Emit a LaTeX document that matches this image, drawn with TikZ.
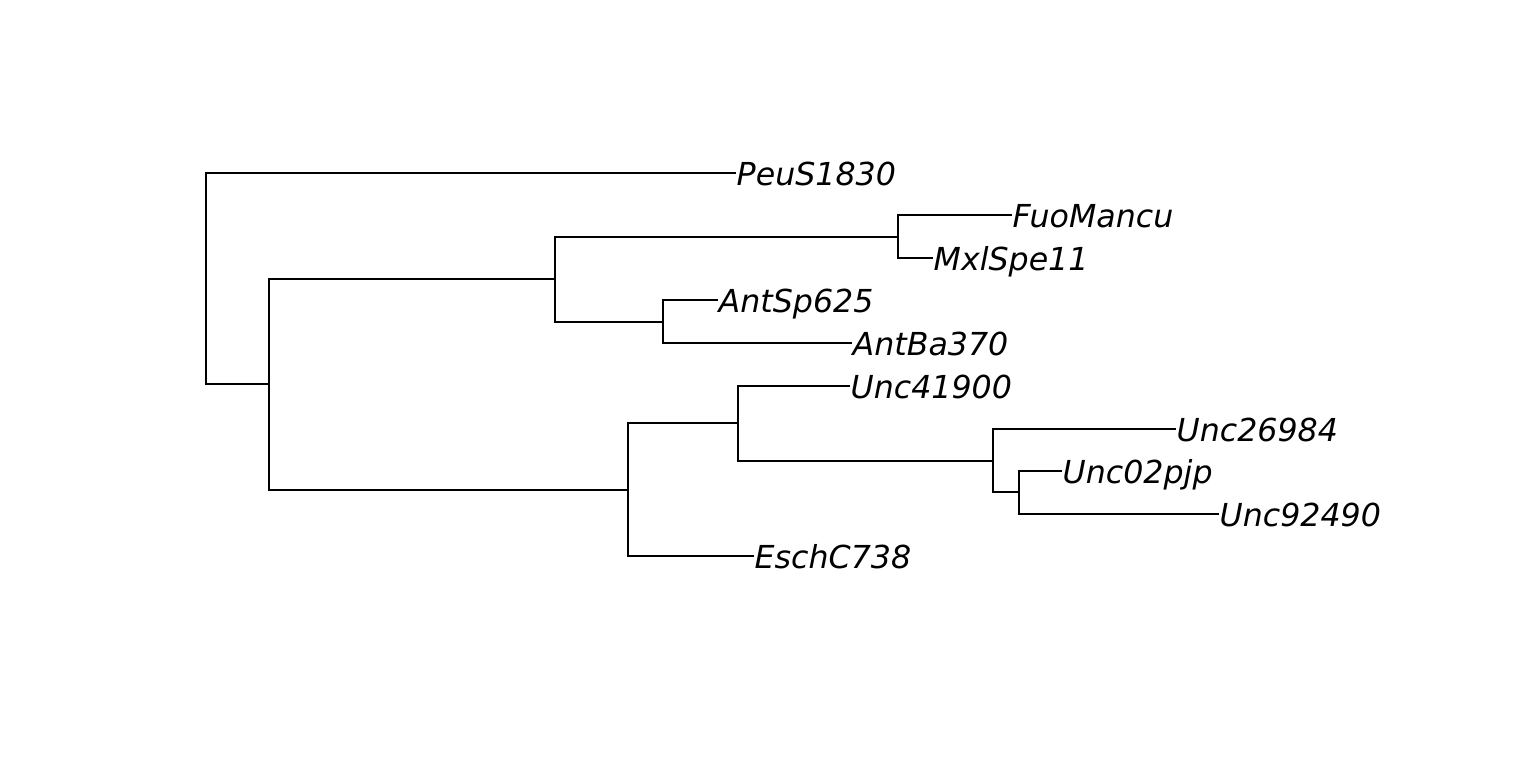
\documentclass[tikz,border=0pt]{standalone}
\usepackage{fontspec}
\newfontfamily\tipfont{DejaVu Sans}[ItalicFont={DejaVu Sans Oblique}]
\usepackage{tikz}
\usetikzlibrary{positioning}
\definecolor{EdgeBlack}{RGB}{0,0,0}

\begin{document}
\begin{tikzpicture}[x=0.01cm,y=-0.01cm,
    tip/.style={anchor=west,inner sep=0pt,text height=0.73em,text depth=0pt,
      font=\tipfont\itshape\fontsize{9}{11}\selectfont},
    edge/.style={line width=0.6pt,EdgeBlack}]
      \useasboundingbox (0,0) rectangle (1536,768);
      \node[tip] (peus) at (736,173) {PeuS1830};
      \node[tip] (fuom) at (1012,215) {FuoMancu};
      \node[tip] (mxls) at (933,258) {MxlSpe11};
      \node[tip] (ants) at (718,300) {AntSp625};
      \node[tip] (antb) at (852,343) {AntBa370};
      \node[tip] (u419) at (850,386) {Unc41900};
      \node[tip] (u269) at (1176,429) {Unc26984};
      \node[tip] (u02p) at (1062,471) {Unc02pjp};
      \node[tip] (u924) at (1219,514) {Unc92490};
      \node[tip] (esch) at (754,556) {EschC738};
      \coordinate (root) at (206,279);
      \coordinate (n1) at (269,384);
      \coordinate (n2) at (555,279);
      \coordinate (n3) at (898,237);
      \coordinate (n4) at (663,322);
      \coordinate (n5) at (628,490);
      \coordinate (n6) at (738,423);
      \coordinate (n7) at (993,461);
      \coordinate (n8) at (1019,492);
      \draw[edge] (root) |- (peus.west);
      \draw[edge] (root) |- (n1);
      \draw[edge] (n1) |- (n2);
      \draw[edge] (n1) |- (n5);
      \draw[edge] (n2) |- (n3);
      \draw[edge] (n2) |- (n4);
      \draw[edge] (n3) |- (fuom.west);
      \draw[edge] (n3) |- (mxls.west);
      \draw[edge] (n4) |- (ants.west);
      \draw[edge] (n4) |- (antb.west);
      \draw[edge] (n5) |- (n6);
      \draw[edge] (n5) |- (esch.west);
      \draw[edge] (n6) |- (u419.west);
      \draw[edge] (n6) |- (n7);
      \draw[edge] (n7) |- (u269.west);
      \draw[edge] (n7) |- (n8);
      \draw[edge] (n8) |- (u02p.west);
      \draw[edge] (n8) |- (u924.west);
    \end{tikzpicture}
\end{document}
